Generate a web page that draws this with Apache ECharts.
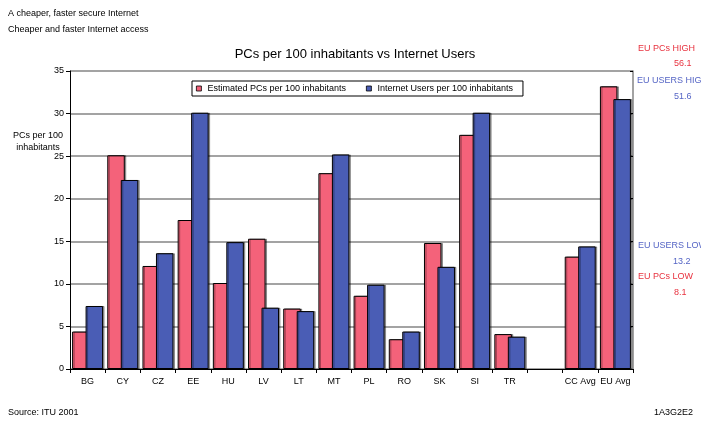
<!DOCTYPE html>
<html>
<head>
<meta charset="utf-8">
<script src="https://cdn.jsdelivr.net/npm/echarts@6/dist/echarts.min.js"></script>
<style>
html,body{margin:0;padding:0;background:#fff;}
#chart{width:701px;height:425px;}
</style>
</head>
<body>
<div id="chart"></div>
<script>
var categories = ['BG','CY','CZ','EE','HU','LV','LT','MT','PL','RO','SK','SI','TR','','CC Avg','EU Avg'];
var pcsPer100 = [4.4, 25.1, 12.1, 17.5, 10.1, 15.3, 7.1, 23.0, 8.6, 3.5, 14.8, 27.5, 4.1, null, 13.2, 33.2];
var usersPer100 = [7.4, 22.2, 13.6, 30.1, 14.9, 7.2, 6.8, 25.2, 9.9, 4.4, 12.0, 30.1, 3.8, null, 14.4, 31.7];
var seriesNames = ['Estimated PCs per 100 inhabitants', 'Internet Users per 100 inhabitants'];
var yTicks = {min: 0, max: 35, interval: 5};
var euNotes = [
  {label: 'EU PCs HIGH', value: '56.1', kind: 'pc'},
  {label: 'EU USERS HIGH', value: '51.6', kind: 'user'},
  {label: 'EU USERS LOW', value: '13.2', kind: 'user'},
  {label: 'EU PCs LOW', value: '8.1', kind: 'pc'}
];

var RED = '#F4627A', BLUE = '#4A5DB5';
var NOTE_RED = '#E8323F', NOTE_BLUE = '#5565C5';
var FONT = 'Liberation Sans, Arial, sans-serif';

var noteY = [[49, 64], [81, 97], [246, 262], [277, 293]];
var noteX = [[638, 674], [637, 674], [638, 673], [638, 674]];
var graphics = [
  {type:'text', left: 8, top: 9, style:{text:'A cheaper, faster secure Internet', font:'9px ' + FONT, fill:'#000'}},
  {type:'text', left: 8, top: 25, style:{text:'Cheaper and faster Internet access', font:'9px ' + FONT, fill:'#000'}},
  {type:'text', x: 38, y: 136, style:{text:'PCs per 100', font:'9px ' + FONT, fill:'#000', align:'center', verticalAlign:'middle'}},
  {type:'text', x: 38, y: 148, style:{text:'inhabitants', font:'9px ' + FONT, fill:'#000', align:'center', verticalAlign:'middle'}},
  {type:'text', left: 8, top: 408, style:{text:'Source: ITU 2001', font:'9px ' + FONT, fill:'#000'}},
  {type:'text', right: 8, top: 408, style:{text:'1A3G2E2', font:'9px ' + FONT, fill:'#000'}}
];
euNotes.forEach(function(n, i){
  var c = n.kind === 'pc' ? NOTE_RED : NOTE_BLUE;
  graphics.push({type:'text', x: noteX[i][0], y: noteY[i][0], style:{text:n.label, font:'9px ' + FONT, fill:c, verticalAlign:'middle'}});
  graphics.push({type:'text', x: noteX[i][1], y: noteY[i][1], style:{text:n.value, font:'9px ' + FONT, fill:c, verticalAlign:'middle'}});
});

var chart = echarts.init(document.getElementById('chart'), null, {renderer:'canvas'});
var barStyle = function(color){
  return {color: color, borderColor: '#000', borderWidth: 1,
          shadowColor: 'rgba(0,0,0,0.35)', shadowOffsetX: 1.5, shadowOffsetY: 0, shadowBlur: 0};
};
chart.setOption({
  animation: false,
  backgroundColor: '#fff',
  textStyle: {fontFamily: FONT},
  title: {
    text: 'PCs per 100 inhabitants vs Internet Users',
    left: 350, top: 43, textAlign: 'center',
    textStyle: {fontSize: 13, fontWeight: 'normal', color: '#000', fontFamily: FONT}
  },
  legend: {
    left: 192, top: 81,
    data: seriesNames,
    icon: 'rect', itemWidth: 5, itemHeight: 5, itemGap: 20,
    borderColor: '#000', borderWidth: 1, padding: [3, 10, 3, 4],
    backgroundColor: '#fff',
    textStyle: {fontSize: 9, color: '#000', fontFamily: FONT, padding: [0, 0, 0, 1]},
    itemStyle: {borderColor: '#000', borderWidth: 0.8}
  },
  grid: {left: 70, right: 68, top: 71, bottom: 56, containLabel: false},
  xAxis: {
    type: 'category',
    data: categories,
    axisLine: {lineStyle: {color: '#000', width: 1}},
    axisTick: {show: true, length: 4, lineStyle: {color: '#000'}},
    axisLabel: {fontSize: 9, color: '#000', margin: 8, interval: 0, fontFamily: FONT}
  },
  yAxis: [{
    type: 'value',
    min: yTicks.min, max: yTicks.max, interval: yTicks.interval,
    axisLine: {show: true, lineStyle: {color: '#000', width: 1}},
    axisTick: {show: true, length: 4, lineStyle: {color: '#000'}},
    axisLabel: {fontSize: 9, color: '#000', margin: 6, fontFamily: FONT},
    splitLine: {show: true, lineStyle: {color: '#858585', width: 1.5}}
  }, {
    type: 'value', position: 'right',
    min: yTicks.min, max: yTicks.max, interval: yTicks.interval,
    axisLine: {show: true, lineStyle: {color: '#858585', width: 1.5}},
    axisTick: {show: true, inside: true, length: 3, lineStyle: {color: '#000'}},
    axisLabel: {show: false},
    splitLine: {show: false}
  }],
  series: [{
    name: seriesNames[0], type: 'bar', data: pcsPer100,
    barWidth: 17.5, barGap: '-23%',
    itemStyle: barStyle(RED)
  }, {
    name: seriesNames[1], type: 'bar', data: usersPer100,
    barWidth: 17.5, barGap: '-23%',
    itemStyle: barStyle(BLUE)
  }],
  graphic: graphics
});
</script>
</body>
</html>
